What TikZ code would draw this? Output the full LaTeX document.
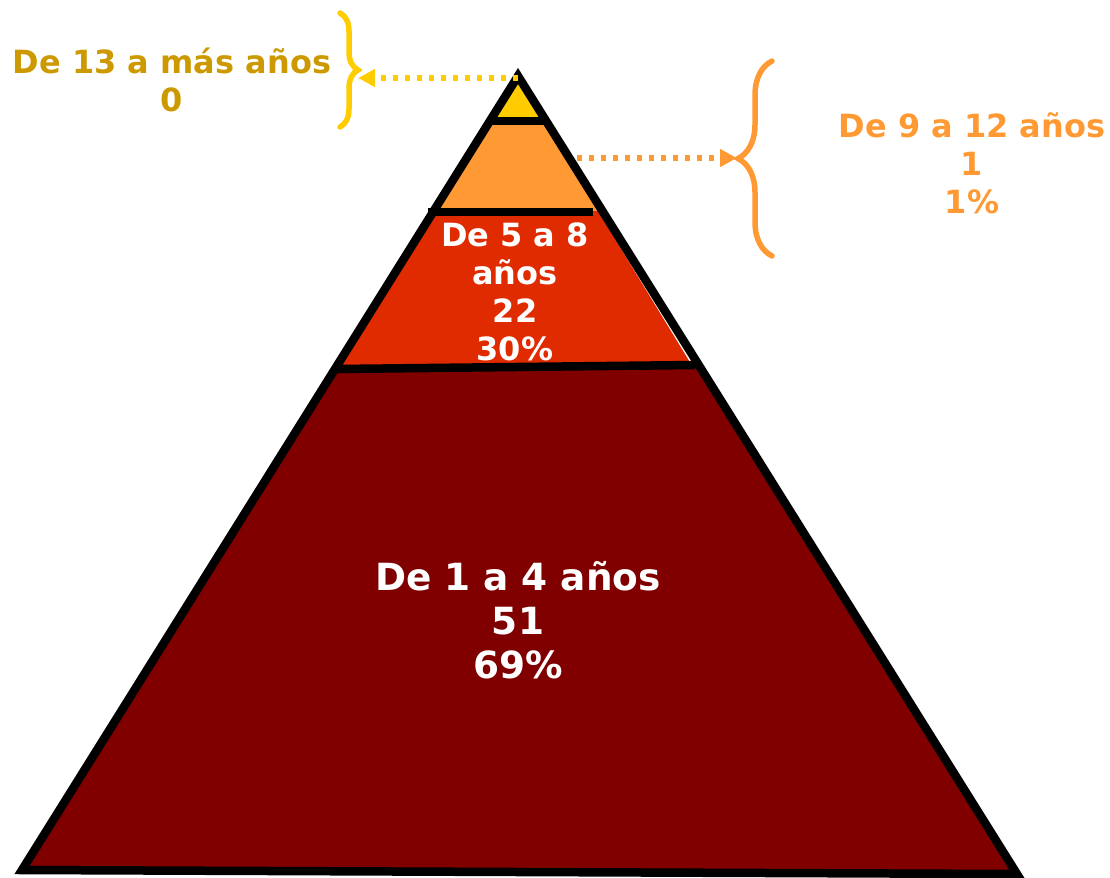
\documentclass[tikz,border=0pt]{standalone}
\usepackage{fontspec}
\setmainfont{DejaVu Sans}
\usetikzlibrary{arrows.meta,decorations.pathreplacing}
\definecolor{gold}{HTML}{CC9900}
\definecolor{lemon}{HTML}{FFCC00}
\definecolor{tangerine}{HTML}{FF9933}
\definecolor{brick}{HTML}{E02A00}
\definecolor{maroon}{HTML}{800000}
\tikzset{font=\bfseries}

\begin{document}
\begin{tikzpicture}[x=0.02cm,y=-0.02cm,
    every node/.style={align=center,font=\fontsize{18.2}{21.6}\selectfont\bfseries},
    bignode/.style={font=\fontsize{21.3}{25}\selectfont\bfseries},
    ptr/.style={-{Triangle[length=0.34cm,width=0.34cm]},line width=0.11cm,dash pattern=on 0.1cm off 0.14cm},
    brc/.style={decorate,decoration={brace,amplitude=#1},line width=0.11cm,line cap=round},
    rim/.style={line width=0.17cm}]
  \useasboundingbox (0,0) rectangle (1110,877);

  % bands of the pyramid
  \fill[lemon] (518,76) -- (546,121) -- (490,121) -- cycle;
  \fill[tangerine] (490,121) -- (546,121) -- (602,211) -- (433,211) -- cycle;
  \fill[brick] (433,211) -- (598,211) -- (691,364) -- (337,369) -- cycle;
  \fill[maroon] (337,369) -- (695,365) -- (1017,874) -- (22,870) -- cycle;

  % outline and dividers
  \draw[rim,line join=miter] (518,76) -- (1017,874) -- (22,870) -- cycle;
  \draw[rim] (490,121) -- (546,121);
  \draw[rim] (428,212) -- (593,212);
  \draw[rim] (337,369) -- (695,365);

  \coordinate (apex) at (518,78);
  \coordinate (ytip) at (358,78);
  \coordinate (oside) at (577,158);
  \coordinate (otip) at (737,158);

  % braces
  \draw[brc=0.36cm,lemon] (340,13) -- (340,127);
  \draw[brc=0.68cm,tangerine] (772,256) -- (772,61);

  \draw[ptr,lemon] (apex) -- (ytip);
  \draw[ptr,tangerine] (oside) -- (otip);

  \node[text=gold] (top) at (172,80) {De 13 a más años\\0};
  \node[text=tangerine] (side) at (972,163) {De 9 a 12 años\\1\\1\%};
  \node[text=white] (band) at (515,292) {De 5 a 8\\años\\22\\30\%};
  \node[text=white,bignode] (base) at (518,620) {De 1 a 4 años\\51\\69\%};
\end{tikzpicture}
\end{document}
